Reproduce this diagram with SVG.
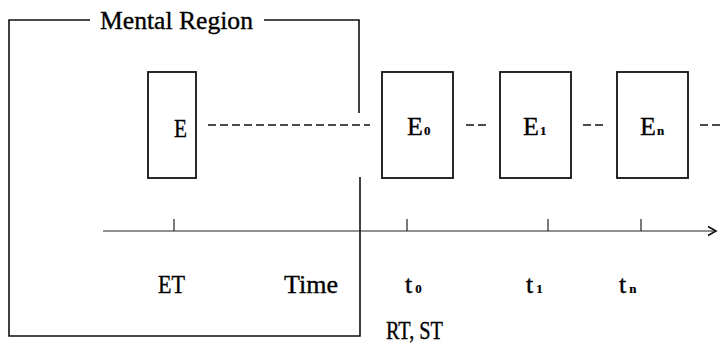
<svg xmlns="http://www.w3.org/2000/svg" width="720" height="346" viewBox="0 0 720 346">
<style>
text{font-family:"Liberation Serif","DejaVu Serif",serif;font-size:26px;fill:#000;stroke:#000;stroke-width:0.35}
.sub{font-size:13px;font-weight:bold;stroke-width:0.2}
.ln{fill:none;stroke:#111;stroke-width:1.6}
.box{fill:#fff;stroke:#111;stroke-width:1.8}
.dash{fill:none;stroke:#111;stroke-width:1.3;stroke-dasharray:8 4}
.ax{fill:none;stroke:#222;stroke-width:1.2}
</style>
<defs>
<marker id="arr" markerWidth="12" markerHeight="12" refX="10" refY="6" orient="auto" markerUnits="userSpaceOnUse">
<polyline points="2,1.5 10,6 2,10.5" fill="none" stroke="#111" stroke-width="1.6"/>
</marker>
</defs>
<g id="mental-region">
<polyline class="ln" points="90,20 9,20 9,336 360,336 360,177"/>
<polyline class="ln" points="264,20 359,20 359,113"/>
<text x="100" y="29" textLength="153" lengthAdjust="spacingAndGlyphs">Mental Region</text>
</g>
<g id="connectors">
<line class="dash" x1="208" y1="125" x2="370" y2="125"/>
<line class="dash" x1="466" y1="125" x2="488" y2="125"/>
<line class="dash" x1="583" y1="125" x2="605" y2="125"/>
<line class="dash" x1="700" y1="125" x2="720" y2="125"/>
<line class="ax" x1="103" y1="231" x2="716" y2="231" marker-end="url(#arr)"/>
<line class="ax" x1="174" y1="219" x2="174" y2="231"/>
<line class="ax" x1="407" y1="219" x2="407" y2="231"/>
<line class="ax" x1="548" y1="219" x2="548" y2="231"/>
<line class="ax" x1="641" y1="219" x2="641" y2="231"/>
</g>
<g id="node-E">
<rect class="box" x="148" y="72" width="48" height="106"/>
<text x="174" y="137" textLength="13" lengthAdjust="spacingAndGlyphs">E</text>
</g>
<g id="node-E0">
<rect class="box" x="382" y="72" width="71" height="106"/>
<text x="407" y="135">E<tspan class="sub" dx="1">0</tspan></text>
</g>
<g id="node-E1">
<rect class="box" x="500" y="72" width="71" height="106"/>
<text x="523" y="135">E<tspan class="sub" dx="1">1</tspan></text>
</g>
<g id="node-En">
<rect class="box" x="617" y="72" width="71" height="106"/>
<text x="640" y="135">E<tspan class="sub" dx="1">n</tspan></text>
</g>
<g id="labels">
<text x="158" y="293" textLength="27" lengthAdjust="spacingAndGlyphs">ET</text>
<text x="284" y="293" textLength="54" lengthAdjust="spacingAndGlyphs">Time</text>
<text x="405" y="293">t<tspan class="sub" dx="3">0</tspan></text>
<text x="526" y="293">t<tspan class="sub" dx="3">1</tspan></text>
<text x="619" y="293">t<tspan class="sub" dx="3">n</tspan></text>
<text x="386" y="339" font-size="24" textLength="57" lengthAdjust="spacingAndGlyphs">RT, ST</text>
</g>
</svg>
